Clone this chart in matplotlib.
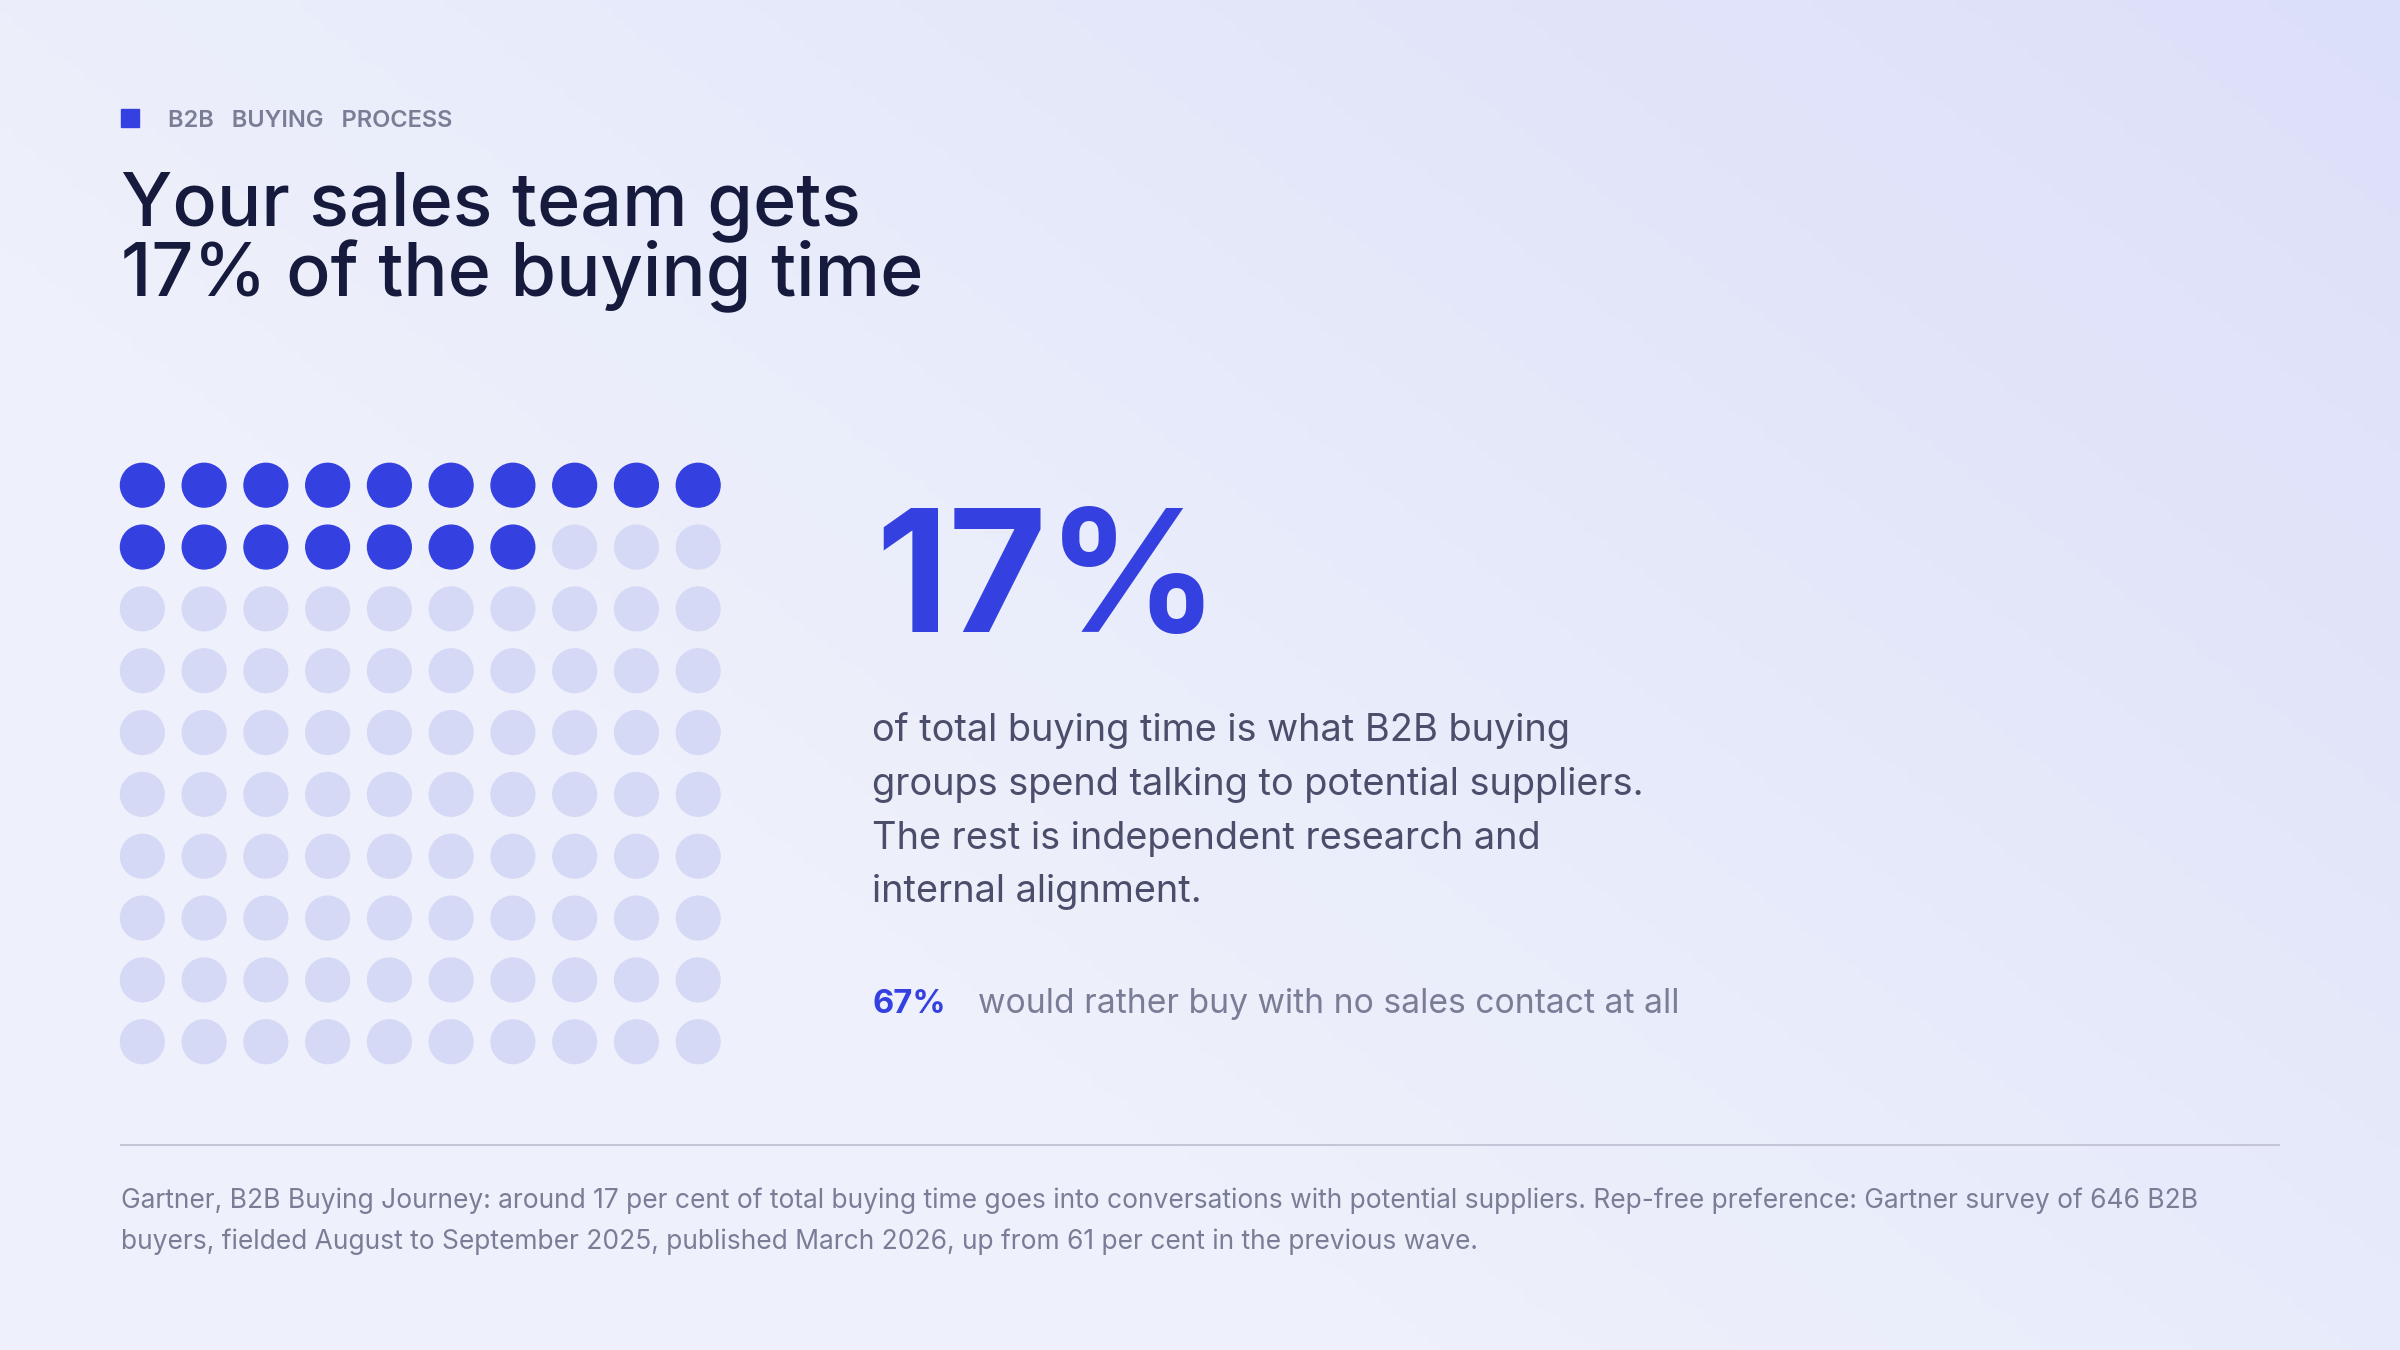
import matplotlib.pyplot as plt
import numpy as np
from matplotlib.patches import Circle, Rectangle

# data
share = 17
grid_cols = 10
grid_rows = 10
rep_free = "67%"

kicker = "B2B BUYING PROCESS"
title = "Your sales team gets\n17% of the buying time"
body = ("of total buying time is what B2B buying\ngroups spend talking to potential suppliers.\n"
        "The rest is independent research and\ninternal alignment.")
stat_text = "would rather buy with no sales contact at all"
source = ("Gartner, B2B Buying Journey: around 17 per cent of total buying time goes into conversations with potential suppliers. "
          "Rep-free preference: Gartner survey of 646 B2B\nbuyers, fielded August to September 2025, published March 2026, "
          "up from 61 per cent in the previous wave.")

W, H = 1568, 882
BLUE = "#3440e0"
PALE = "#d6d9f6"
DARK = "#161a3d"
GREY = "#4a4e6a"
MUTED = "#7a7d96"

plt.rcParams["font.family"] = ["Inter", "DejaVu Sans"]
fig = plt.figure(figsize=(24, 13.5), dpi=100)
ax = fig.add_axes([0, 0, 1, 1])
ax.set_xlim(0, W)
ax.set_ylim(H, 0)
ax.axis("off")

# background gradient, lighter at bottom-left, lilac at top-right
yy, xx = np.mgrid[0:1:200j, 0:1:200j]
t = np.clip(xx * 0.75 + (1 - yy) * 0.55 - 0.45, 0, 1)
c0 = np.array([0xee, 0xf1, 0xfb]) / 255
c1 = np.array([0xd9, 0xdc, 0xf8]) / 255
img = c0 + (c1 - c0) * t[..., None]
ax.imshow(img, extent=[0, W, H, 0], aspect="auto", zorder=0)

# header
ax.add_patch(Rectangle((79, 71), 12, 12, color=BLUE, zorder=2))
ax.text(110, 79, "   ".join(kicker.split(" ")), fontsize=17, color=MUTED, fontweight="semibold",
        va="center", ha="left")
ax.text(79, 158, title, fontsize=53, color=DARK, fontweight="medium", va="center", ha="left",
        linespacing=0.95)

# dot grid
x0, dx = 93, 40.35
y0, dy = 317, 40.4
for i in range(grid_rows * grid_cols):
    r, c = divmod(i, grid_cols)
    col = BLUE if i < share else PALE
    ax.add_patch(Circle((x0 + c * dx, y0 + r * dy), 14.3, color=col, zorder=2))

# big number and copy
ax.text(572, 384, f"{share}%", fontsize=122, color=BLUE, fontweight="bold", va="center", ha="left")
ax.text(570, 530, body, fontsize=27.3, color=GREY, va="center", ha="left", linespacing=1.63)
ax.text(570, 656, rep_free, fontsize=23.5, color=BLUE, fontweight="bold", va="center", ha="left")
ax.text(639, 656, stat_text, fontsize=24.2, color=MUTED, va="center", ha="left")

# rule and source
ax.plot([79, 1489], [748, 748], color="#c4c6d8", lw=1.5, zorder=2)
ax.text(79, 798, source, fontsize=19, color=MUTED, va="center", ha="left", linespacing=1.7)

fig.savefig("out.png", dpi=100)
